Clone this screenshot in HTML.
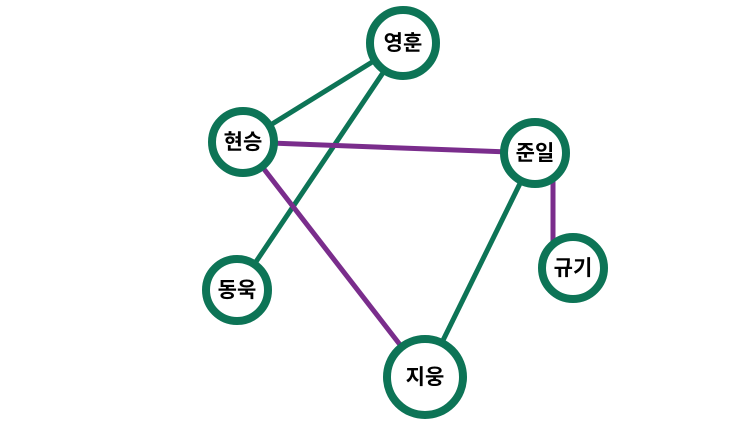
<!DOCTYPE html>
<html><head><meta charset="utf-8"><style>
html,body{margin:0;padding:0;background:#fff;width:741px;height:446px;overflow:hidden}
svg{display:block}
text{font-family:"Liberation Sans","Noto Sans CJK KR","NanumGothic",sans-serif;font-weight:bold;font-size:21px;fill:#000}
</style></head><body>
<svg id="g" width="741" height="446"></svg>
<script>
const nodeNames = ["영훈","현승","준일","동욱","규기","지웅"];
const nodeX = [403,243,535,237,573,425];
const nodeY = [43,142,153,290,268,377];
const nodeR = [33,31,31,31,31,38];
const edgeFrom = [0,0,1,1,2,2];
const edgeTo = [1,3,2,5,5,4];
const edgeKind = ["green","green","purple","purple","green","purple"];
const colors = {green:"#0d7456", purple:"#7a2d8c"};
const svg = document.getElementById('g');
const NS = "http://www.w3.org/2000/svg";
for (let i=0;i<edgeFrom.length;i++){
  const a=edgeFrom[i], b=edgeTo[i];
  const l=document.createElementNS(NS,'line');
  let x1=nodeX[a],y1=nodeY[a],x2=nodeX[b],y2=nodeY[b];
  if(a===2&&b===4){x1=553;x2=553;}
  l.setAttribute('x1',x1);l.setAttribute('y1',y1);l.setAttribute('x2',x2);l.setAttribute('y2',y2);
  l.setAttribute('stroke',colors[edgeKind[i]]);l.setAttribute('stroke-width',5);
  
  
  svg.appendChild(l);
}
for (let i=0;i<nodeNames.length;i++){
  const g=document.createElementNS(NS,'g');
  
  
  const c=document.createElementNS(NS,'circle');
  c.setAttribute('cx',nodeX[i]);c.setAttribute('cy',nodeY[i]);c.setAttribute('r',nodeR[i]);
  c.setAttribute('fill','#fff');c.setAttribute('stroke','#0d7456');c.setAttribute('stroke-width',8);
  
  
  const t=document.createElementNS(NS,'text');
  t.setAttribute('x',nodeX[i]);t.setAttribute('y',nodeY[i]+7);t.setAttribute('text-anchor','middle');
  
  
  t.textContent=nodeNames[i];
  g.appendChild(c);g.appendChild(t);svg.appendChild(g);
}
</script>
</body></html>
